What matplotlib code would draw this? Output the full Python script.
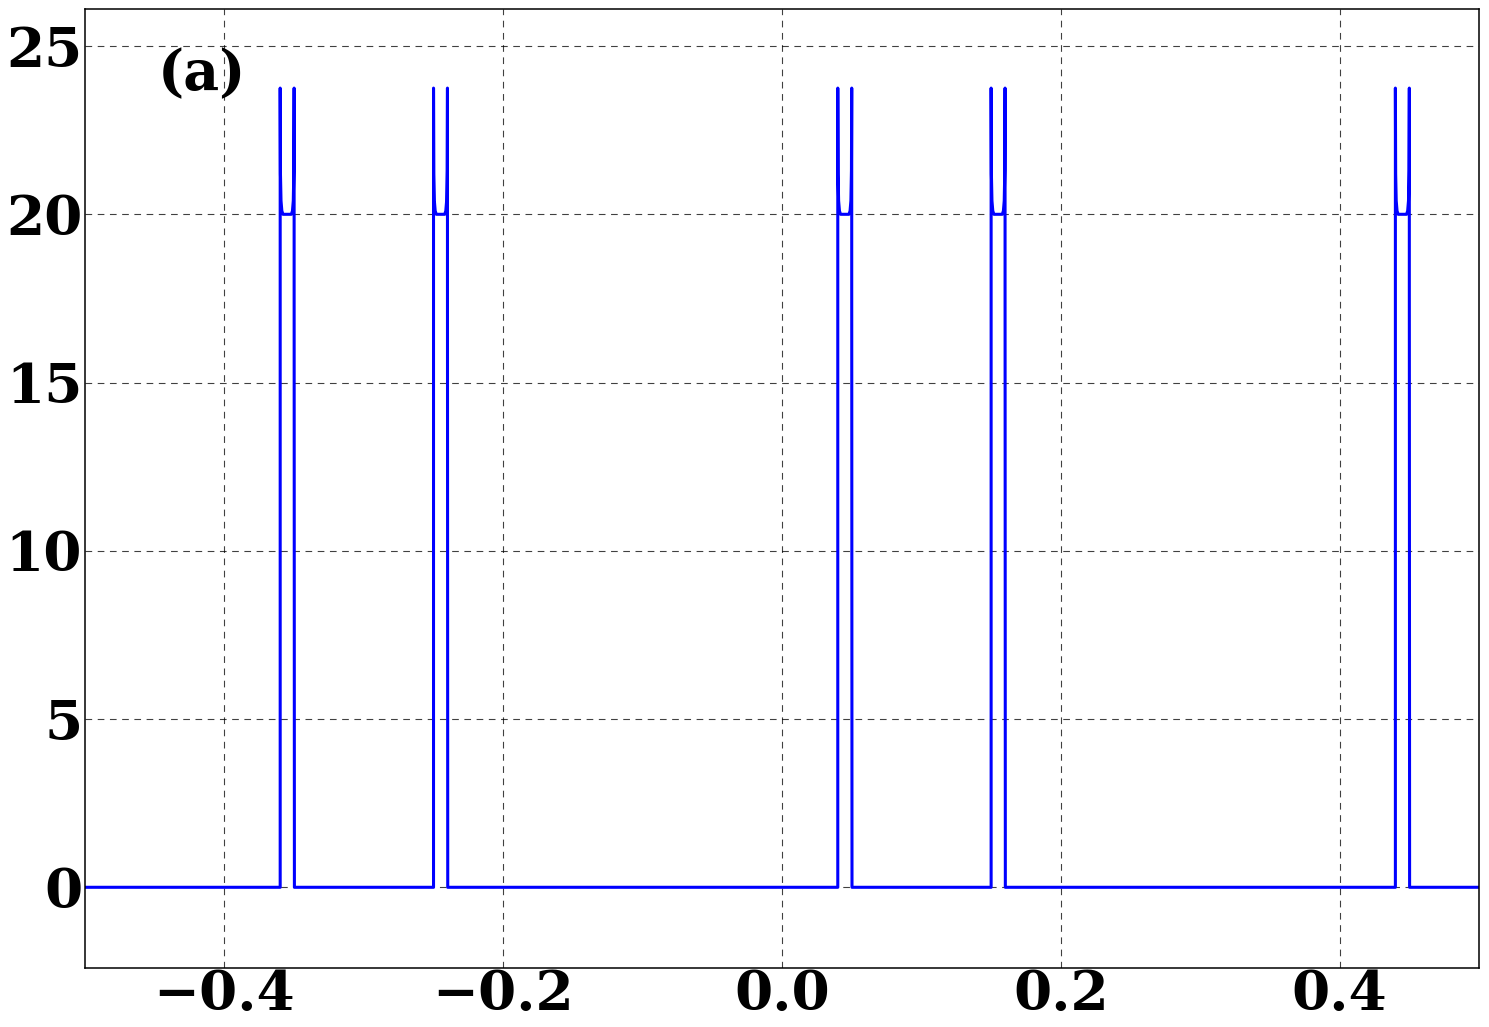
import numpy as np
import matplotlib
matplotlib.use("Agg")
import matplotlib.pyplot as plt

# band positions (left edge of each narrow band)
band_starts = [-0.36, -0.25, 0.04, 0.15, 0.44]
band_width = 0.01

# shape of one band: offset across the band (in band widths) and value
profile_dx = [0.0, 0.0, 0.02, 0.06, 0.12, 0.2, 0.5, 0.8, 0.88, 0.94, 0.98, 1.0, 1.0, 1.02]
profile_y = [0.0, 23.75, 21.2, 20.4, 20.1, 20.0, 20.0, 20.0, 20.1, 20.4, 21.3, 23.75, 18.0, 0.0]

x_range = [-0.5, 0.5]
y_range = [-2.4, 26.1]
x_ticks = [-0.4, -0.2, 0.0, 0.2, 0.4]
y_ticks = [0, 5, 10, 15, 20, 25]

xs = [x_range[0]]
ys = [0.0]
for s in band_starts:
    for dx, yv in zip(profile_dx, profile_y):
        xs.append(s + dx * band_width)
        ys.append(yv)
xs.append(x_range[1])
ys.append(0.0)

plt.rcParams['font.family'] = 'DejaVu Serif'
plt.rcParams['font.weight'] = 'bold'

fig = plt.figure(figsize=(14.89, 10.27), dpi=100)
ax = fig.add_axes([0.0571, 0.0574, 0.9362, 0.9338])
ax.plot(xs, ys, '-', color='blue', linewidth=2.2)

ax.set_xlim(*x_range)
ax.set_ylim(*y_range)
ax.set_xticks(x_ticks)
ax.set_yticks(y_ticks)
ax.set_xticklabels([f"{v:.1f}".replace('-', '\u2212') for v in x_ticks])
ax.tick_params(length=0, labelsize=39.5)
ax.tick_params(axis='y', pad=2)
ax.tick_params(axis='x', pad=1)
for lab in ax.get_xticklabels() + ax.get_yticklabels():
    lab.set_fontweight('bold')
ax.grid(True, linestyle=(0, (6, 5)), color='black', linewidth=0.8, alpha=0.75)
for sp in ax.spines.values():
    sp.set_linewidth(1.1)

ax.text(0.052, 0.960, "(a)", transform=ax.transAxes, fontsize=40,
        fontweight='bold', ha='left', va='top')

fig.savefig("out.png", dpi=100)
